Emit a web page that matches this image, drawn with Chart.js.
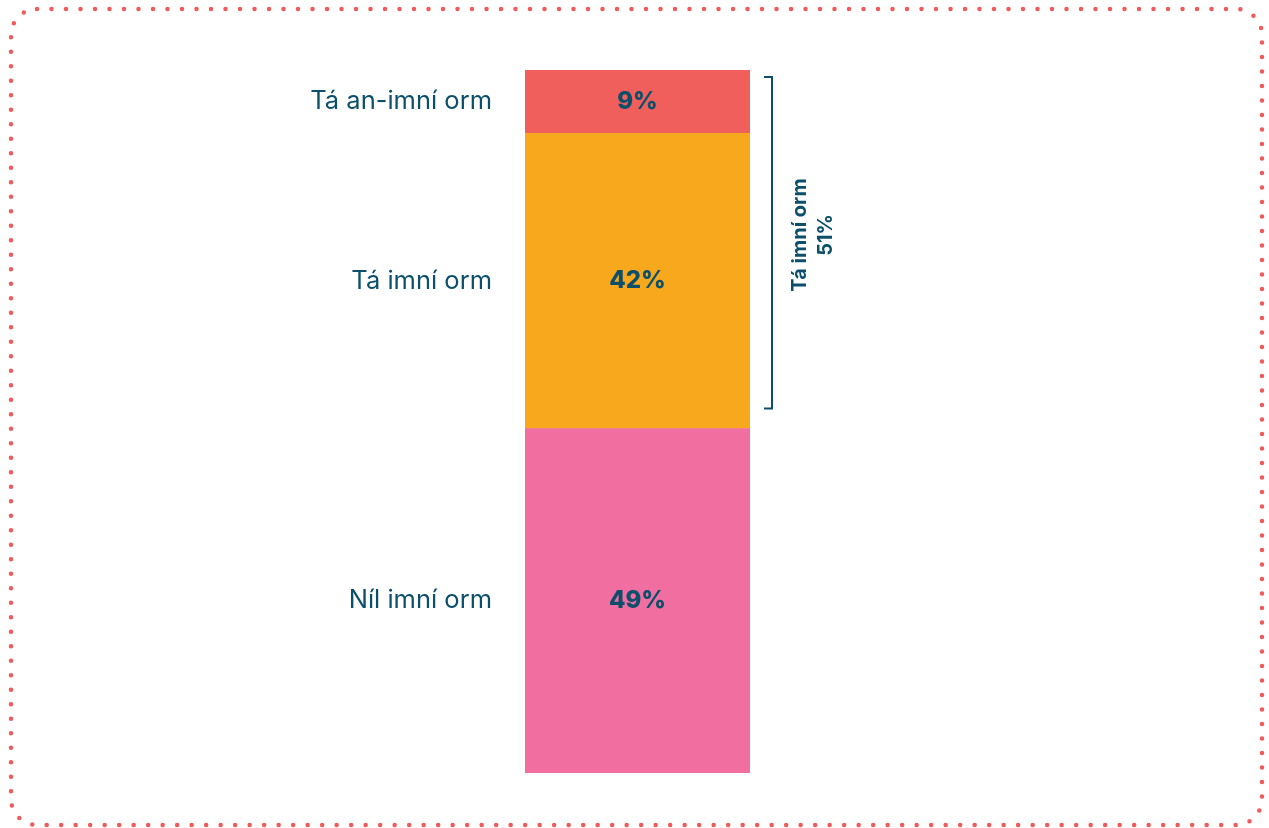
<!DOCTYPE html>
<html>
<head>
<meta charset="utf-8">
<script src="https://cdn.jsdelivr.net/npm/chart.js@4"></script>
<style>
  html, body { margin: 0; padding: 0; background: #fff; }
  #frame { position: absolute; left: 0; top: 0; }
  #wrap { position: absolute; left: 0; top: 0; width: 1269px; height: 828px; }
</style>
</head>
<body>
<svg id="frame" width="1269" height="828">
  <rect x="11" y="9" width="1251" height="816" rx="26" ry="26" fill="none"
        stroke="#f05a5a" stroke-width="4.5" stroke-linecap="round" stroke-dasharray="0 14.5"/>
</svg>
<div id="wrap"><canvas id="chartWorry"></canvas></div>
<script>
// stacked from the bottom up
const categories = ['Níl imní orm', 'Tá imní orm', 'Tá an-imní orm'];
const shares = [49, 42, 9];
const colours = ['#f06ea0', '#f8a81c', '#f05f5b'];
const bracketTitle = 'Tá imní orm';
const bracketTotal = '51%';

const ink = '#0b4f6b';
const font = 'Inter, "Open Sans", sans-serif';

const labelsPlugin = {
  id: 'labels',
  afterDatasetsDraw(chart) {
    const ctx = chart.ctx;
    const area = chart.chartArea;
    const y = chart.scales.y;
    ctx.save();
    ctx.fillStyle = ink;
    ctx.textBaseline = 'middle';
    chart.data.datasets.forEach((ds, i) => {
      const bar = chart.getDatasetMeta(i).data[0];
      const mid = (bar.y + bar.base) / 2;
      ctx.font = '800 24px ' + font;
      ctx.textAlign = 'center';
      ctx.fillText(ds.data[0] + '%', bar.x, mid);
      ctx.font = '400 25.5px ' + font;
      ctx.textAlign = 'right';
      ctx.fillText(ds.label, area.left - 33, mid);
    });

    // bracket over the two "worried" segments
    const top = y.getPixelForValue(100) + 7;
    const bottom = y.getPixelForValue(shares[0]) - 20;
    const bx = area.right + 22;
    ctx.strokeStyle = ink;
    ctx.lineWidth = 2;
    ctx.beginPath();
    ctx.moveTo(bx - 8, top);
    ctx.lineTo(bx, top);
    ctx.lineTo(bx, bottom);
    ctx.lineTo(bx - 8, bottom);
    ctx.stroke();

    ctx.translate(bx + 41, 235);
    ctx.rotate(-Math.PI / 2);
    ctx.font = '700 20px ' + font;
    ctx.textAlign = 'center';
    ctx.fillText(bracketTitle, 0, -13);
    ctx.fillText(bracketTotal, 0, 13);
    ctx.restore();
  }
};

new Chart(document.getElementById('chartWorry'), {
  type: 'bar',
  data: {
    labels: [''],
    datasets: categories.map((c, i) => ({
      label: c,
      data: [shares[i]],
      backgroundColor: colours[i],
      borderWidth: 0,
      barPercentage: 1,
      categoryPercentage: 1
    }))
  },
  options: {
    responsive: true,
    maintainAspectRatio: false,
    animation: false,
    layout: { padding: { left: 525, right: 519, top: 70, bottom: 55 } },
    plugins: { legend: { display: false }, tooltip: { enabled: false } },
    scales: {
      x: { stacked: true, display: false },
      y: { stacked: true, display: false, min: 0, max: 100 }
    }
  },
  plugins: [labelsPlugin]
});
</script>
</body>
</html>
